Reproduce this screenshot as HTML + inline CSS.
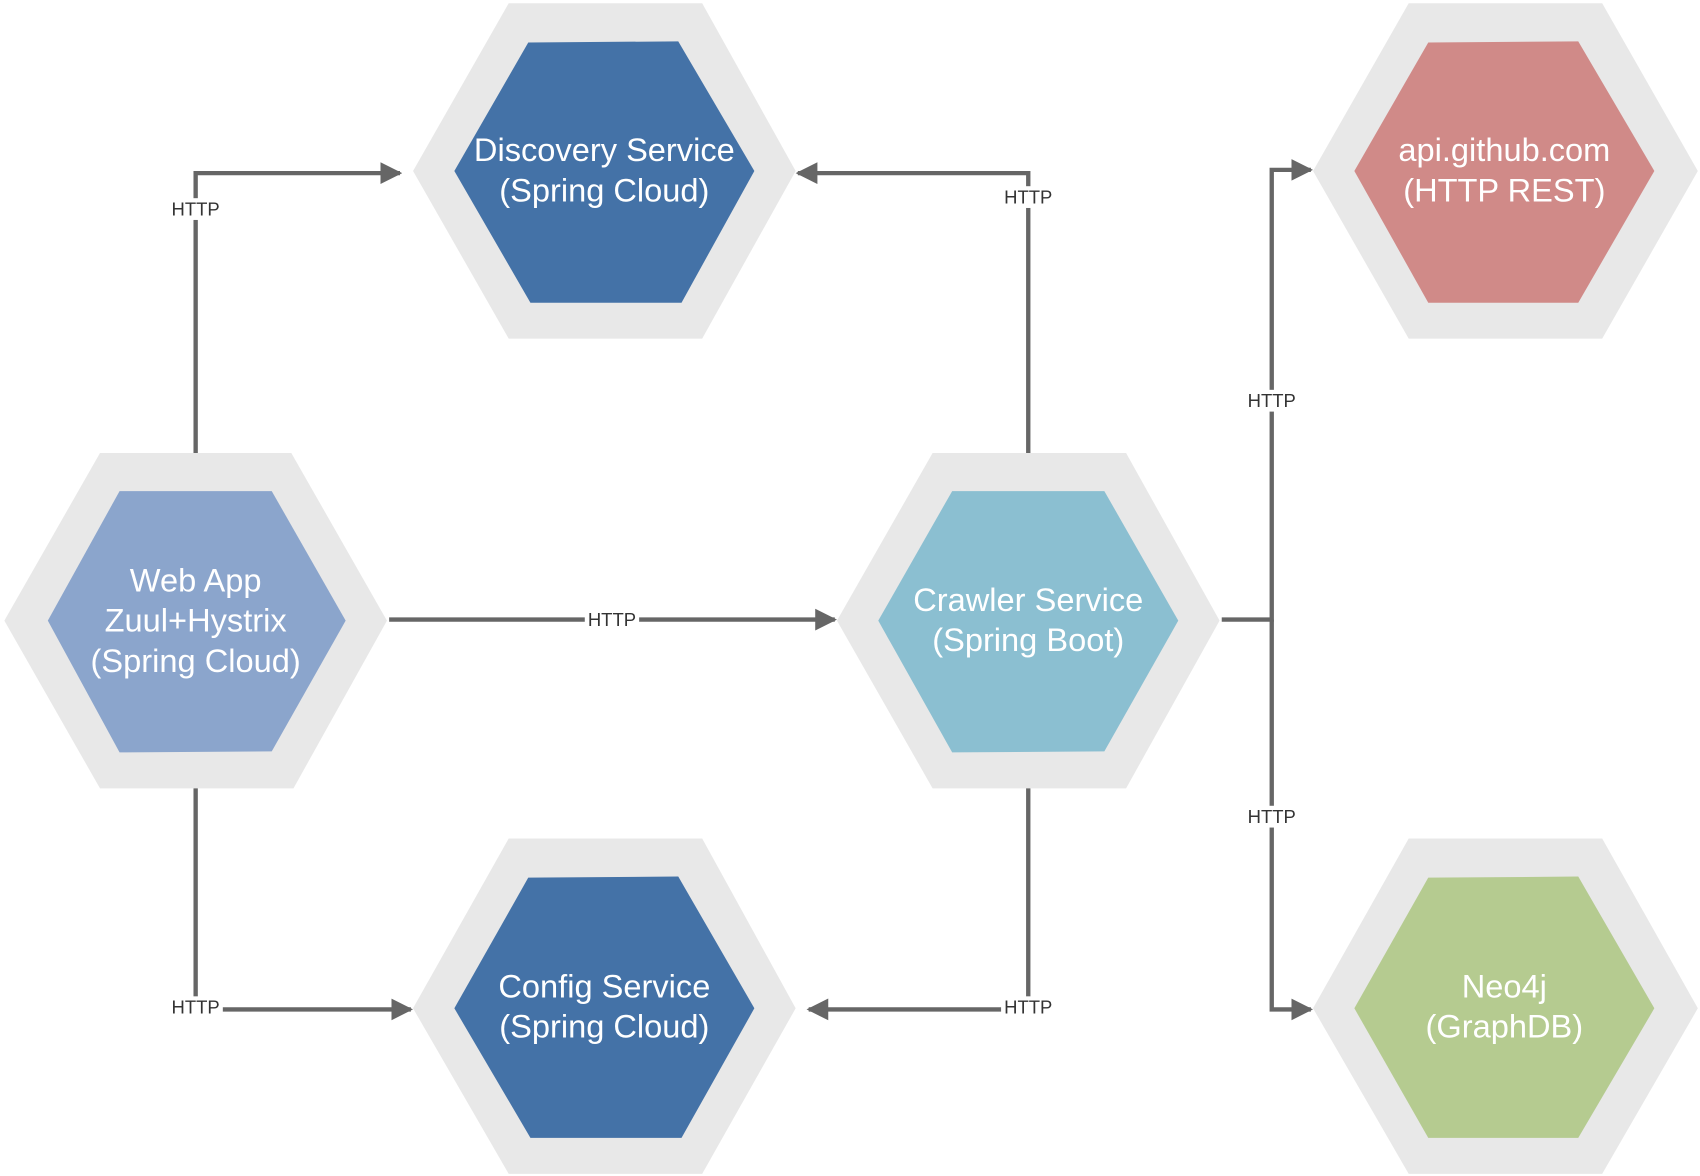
<!DOCTYPE html>
<html><head><meta charset="utf-8"><style>html,body{margin:0;padding:0;background:#fff}svg{display:block}</style></head><body>
<svg width="1700" height="1176" viewBox="0 0 1564 1080" preserveAspectRatio="none" xmlns="http://www.w3.org/2000/svg">
<defs>
<marker id="a" viewBox="0 0 10 10" refX="9" refY="5" markerWidth="5" markerHeight="5" orient="auto" markerUnits="strokeWidth"><path d="M0,0 L10,5 L0,10 z" fill="#666"/></marker>
</defs>
<g fill="#e8e8e8">
<polygon points="468,3 646,3 732,157 646,311 468,311 380,157"/>
<polygon points="92,416 268,416 356,570 270,724 92,724 4,570"/>
<polygon points="858,416 1036,416 1122,570 1036,724 858,724 770,570"/>
<polygon points="468,770 646,770 732,926 646,1078 468,1078 380,926"/>
<polygon points="1296,3 1474,3 1562,157 1474,311 1296,311 1208,157"/>
<polygon points="1296,770 1474,770 1562,926 1474,1078 1296,1078 1208,926"/>
</g>
<polygon fill="#4472a7" points="486,39 624,38 694,157 627,278 488,278 418,157"/>
<polygon fill="#8ba5cc" points="110,451 250,451 318,570 250,690 110,691 44,570"/>
<polygon fill="#8bbfd1" points="876,451 1016,451 1084,570 1016,690 876,691 808,570"/>
<polygon fill="#4472a7" points="486,806 624,805 694,926 627,1045 488,1045 418,926"/>
<polygon fill="#d08a88" points="1314,39 1452,38 1522,157 1452,278 1314,278 1246,157"/>
<polygon fill="#b5cb90" points="1314,806 1452,805 1522,926 1452,1045 1314,1045 1246,926"/>
<g stroke="#666" stroke-width="4" fill="none" marker-end="url(#a)">
<polyline points="180,416 180,159 368,159"/>
<polyline points="946,416 946,159 734,159"/>
<polyline points="358,569 768,569"/>
<polyline points="180,724 180,927 378,927"/>
<polyline points="946,724 946,927 744,927"/>
<polyline points="1124,569 1170,569 1170,156 1206,156"/>
<polyline points="1170,569 1170,927 1206,927"/>
</g>
<g font-family="Liberation Sans, sans-serif" font-size="17" fill="#333" text-anchor="middle">
<rect x="155" y="182" width="50" height="20" fill="#fff"/><text x="180" y="198">HTTP</text>
<rect x="921" y="171" width="50" height="20" fill="#fff"/><text x="946" y="187">HTTP</text>
<rect x="538" y="559" width="50" height="20" fill="#fff"/><text x="563" y="575">HTTP</text>
<rect x="155" y="915" width="50" height="20" fill="#fff"/><text x="180" y="931">HTTP</text>
<rect x="921" y="915" width="50" height="20" fill="#fff"/><text x="946" y="931">HTTP</text>
<rect x="1145" y="358" width="50" height="20" fill="#fff"/><text x="1170" y="374">HTTP</text>
<rect x="1145" y="740" width="50" height="20" fill="#fff"/><text x="1170" y="756">HTTP</text>
</g>
<g font-family="Liberation Sans, sans-serif" font-size="30" fill="#fff" text-anchor="middle">
<text x="556" y="148">Discovery Service</text><text x="556" y="185">(Spring Cloud)</text>
<text x="180" y="543">Web App</text><text x="180" y="580">Zuul+Hystrix</text><text x="180" y="617">(Spring Cloud)</text>
<text x="946" y="561">Crawler Service</text><text x="946" y="598">(Spring Boot)</text>
<text x="556" y="916">Config Service</text><text x="556" y="953">(Spring Cloud)</text>
<text x="1384" y="148">api.github.com</text><text x="1384" y="185">(HTTP REST)</text>
<text x="1384" y="916">Neo4j</text><text x="1384" y="953">(GraphDB)</text>
</g>
</svg>
</body></html>
